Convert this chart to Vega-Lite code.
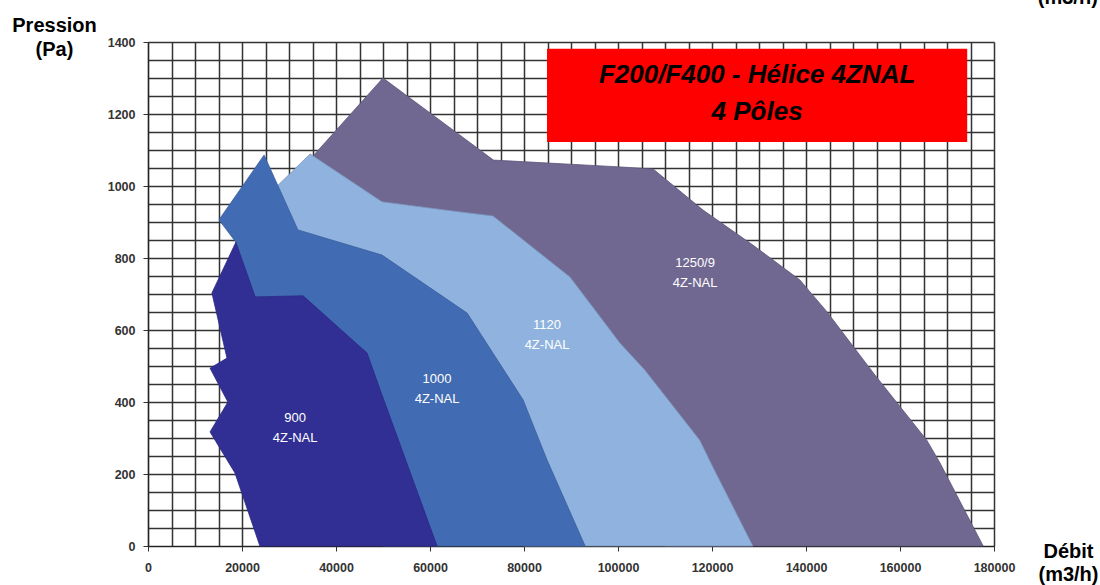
{
  "$schema": "https://vega.github.io/schema/vega-lite/v6.json",
  "width": 846,
  "height": 504,
  "autosize": {"type": "none"},
  "padding": {"left": 148, "top": 42, "right": 106, "bottom": 39},
  "background": "white",
  "config": {"view": {"stroke": null}, "font": "Liberation Sans"},
  "datasets": {
    "poly": [
      {"s": "1250", "i": 1, "x": 33500, "y": 1060},
      {"s": "1250", "i": 2, "x": 50000, "y": 1300},
      {"s": "1250", "i": 3, "x": 73500, "y": 1072},
      {"s": "1250", "i": 4, "x": 100400, "y": 1053},
      {"s": "1250", "i": 5, "x": 107500, "y": 1047},
      {"s": "1250", "i": 6, "x": 118100, "y": 933},
      {"s": "1250", "i": 7, "x": 128700, "y": 836},
      {"s": "1250", "i": 8, "x": 138700, "y": 739},
      {"s": "1250", "i": 9, "x": 144500, "y": 650},
      {"s": "1250", "i": 10, "x": 154300, "y": 481},
      {"s": "1250", "i": 11, "x": 165700, "y": 294},
      {"s": "1250", "i": 12, "x": 168500, "y": 231},
      {"s": "1250", "i": 13, "x": 177700, "y": 0},
      {"s": "1250", "i": 14, "x": 110000, "y": 0},
      {"s": "1250", "i": 15, "x": 100000, "y": 300},
      {"s": "1250", "i": 16, "x": 85000, "y": 700},
      {"s": "1250", "i": 17, "x": 50000, "y": 900},
      {"s": "1250", "i": 18, "x": 33500, "y": 1060},
      {"s": "1120", "i": 1, "x": 27500, "y": 1000},
      {"s": "1120", "i": 2, "x": 34500, "y": 1089},
      {"s": "1120", "i": 3, "x": 49800, "y": 956},
      {"s": "1120", "i": 4, "x": 66400, "y": 928},
      {"s": "1120", "i": 5, "x": 73400, "y": 917},
      {"s": "1120", "i": 6, "x": 89800, "y": 747},
      {"s": "1120", "i": 7, "x": 100400, "y": 564},
      {"s": "1120", "i": 8, "x": 105700, "y": 489},
      {"s": "1120", "i": 9, "x": 117400, "y": 294},
      {"s": "1120", "i": 10, "x": 120200, "y": 219},
      {"s": "1120", "i": 11, "x": 128700, "y": 0},
      {"s": "1120", "i": 12, "x": 80000, "y": 0},
      {"s": "1120", "i": 13, "x": 45000, "y": 700},
      {"s": "1120", "i": 14, "x": 28000, "y": 850},
      {"s": "1120", "i": 15, "x": 27500, "y": 1000},
      {"s": "1000", "i": 1, "x": 24700, "y": 1086},
      {"s": "1000", "i": 2, "x": 31900, "y": 878},
      {"s": "1000", "i": 3, "x": 49800, "y": 808},
      {"s": "1000", "i": 4, "x": 67900, "y": 647},
      {"s": "1000", "i": 5, "x": 79800, "y": 406},
      {"s": "1000", "i": 6, "x": 84900, "y": 239},
      {"s": "1000", "i": 7, "x": 93000, "y": 0},
      {"s": "1000", "i": 8, "x": 50000, "y": 0},
      {"s": "1000", "i": 9, "x": 22000, "y": 650},
      {"s": "1000", "i": 10, "x": 18700, "y": 844},
      {"s": "1000", "i": 11, "x": 15100, "y": 906},
      {"s": "1000", "i": 12, "x": 24700, "y": 1086},
      {"s": "900", "i": 1, "x": 18700, "y": 844},
      {"s": "900", "i": 2, "x": 22800, "y": 692},
      {"s": "900", "i": 3, "x": 33000, "y": 695},
      {"s": "900", "i": 4, "x": 46600, "y": 536},
      {"s": "900", "i": 5, "x": 49800, "y": 419},
      {"s": "900", "i": 6, "x": 61500, "y": 0},
      {"s": "900", "i": 7, "x": 23800, "y": 0},
      {"s": "900", "i": 8, "x": 18500, "y": 203},
      {"s": "900", "i": 9, "x": 13200, "y": 317},
      {"s": "900", "i": 10, "x": 17000, "y": 400},
      {"s": "900", "i": 11, "x": 13200, "y": 494},
      {"s": "900", "i": 12, "x": 16800, "y": 522},
      {"s": "900", "i": 13, "x": 13600, "y": 703},
      {"s": "900", "i": 14, "x": 18700, "y": 844}
    ],
    "labels": [
      {"label": "900\n4Z-NAL", "x": 31300, "y": 356},
      {"label": "1000\n4Z-NAL", "x": 61500, "y": 464},
      {"label": "1120\n4Z-NAL", "x": 84900, "y": 614},
      {"label": "1250/9\n4Z-NAL", "x": 116400, "y": 786}
    ],
    "box": [{"x": 84900, "x2": 174300, "y": 1122, "y2": 1381}],
    "title": [
      {"t": "F200/F400 - Hélice 4ZNAL", "x": 129600, "y": 1308},
      {"t": "4 Pôles", "x": 129600, "y": 1206}
    ],
    "clipped": [{"t": "(m3/h)", "x": 195700, "y": 1506}]
  },
  "encoding": {
    "x": {
      "field": "x", "type": "quantitative",
      "scale": {"domain": [0, 180000], "nice": false, "zero": false},
      "axis": {
        "values": [0,5000,10000,15000,20000,25000,30000,35000,40000,45000,50000,55000,60000,65000,70000,75000,80000,85000,90000,95000,100000,105000,110000,115000,120000,125000,130000,135000,140000,145000,150000,155000,160000,165000,170000,175000,180000],
        "format": "d",
        "labelExpr": "datum.value % 20000 === 0 ? datum.label : ''",
        "labelFont": "Liberation Sans", "labelFontSize": 12.5, "labelFontWeight": "bold", "labelColor": "#333333",
        "labelPadding": 10, "labelFlush": false, "labelOverlap": false,
        "tickSize": 5, "tickColor": "#333333",
        "tickOpacity": {"condition": {"test": "datum.value % 20000 === 0", "value": 1}, "value": 0},
        "domainColor": "#222222", "domainWidth": 1.2,
        "grid": true, "gridColor": "#333333", "gridWidth": 1.5, "gridOpacity": 1,
        "title": ["Débit", "(m3/h)"],
        "titleFont": "Liberation Sans", "titleFontSize": 20, "titleFontWeight": "bold", "titleColor": "#000000",
        "titleAlign": "center", "titleBaseline": "alphabetic", "titleAnchor": null,
        "titleX": 920, "titleY": 11, "titleLineHeight": 23
      }
    },
    "y": {
      "field": "y", "type": "quantitative",
      "scale": {"domain": [0, 1400], "nice": false, "zero": false},
      "axis": {
        "values": [0,50,100,150,200,250,300,350,400,450,500,550,600,650,700,750,800,850,900,950,1000,1050,1100,1150,1200,1250,1300,1350,1400],
        "format": "d",
        "labelExpr": "datum.value % 200 === 0 ? datum.label : ''",
        "labelFont": "Liberation Sans", "labelFontSize": 12.5, "labelFontWeight": "bold", "labelColor": "#333333",
        "labelPadding": 8, "labelFlush": false, "labelOverlap": false,
        "tickSize": 5, "tickColor": "#333333",
        "tickOpacity": {"condition": {"test": "datum.value % 200 === 0", "value": 1}, "value": 0},
        "domainColor": "#222222", "domainWidth": 1.2,
        "grid": true, "gridColor": "#333333", "gridWidth": 1.5, "gridOpacity": 1,
        "title": ["Pression", "(Pa)"],
        "titleFont": "Liberation Sans", "titleFontSize": 20, "titleFontWeight": "bold", "titleColor": "#000000",
        "titleAngle": 0, "titleAlign": "center", "titleBaseline": "alphabetic", "titleAnchor": null,
        "titleX": -94, "titleY": -11, "titleLineHeight": 24
      }
    }
  },
  "layer": [
    {
      "data": {"name": "poly"},
      "transform": [{"filter": "datum.s === '1250'"}],
      "mark": {"type": "line", "fill": "#716891", "stroke": "#5e5679", "strokeWidth": 0.8},
      "encoding": {"order": {"field": "i", "type": "quantitative"}}
    },
    {
      "data": {"name": "poly"},
      "transform": [{"filter": "datum.s === '1120'"}],
      "mark": {"type": "line", "fill": "#8fb3de", "stroke": "#7a92b8", "strokeWidth": 0.8},
      "encoding": {"order": {"field": "i", "type": "quantitative"}}
    },
    {
      "data": {"name": "poly"},
      "transform": [{"filter": "datum.s === '1000'"}],
      "mark": {"type": "line", "fill": "#416bb2", "stroke": "#3a5f9e", "strokeWidth": 0.8},
      "encoding": {"order": {"field": "i", "type": "quantitative"}}
    },
    {
      "data": {"name": "poly"},
      "transform": [{"filter": "datum.s === '900'"}],
      "mark": {"type": "line", "fill": "#312f93", "stroke": "#2c2a85", "strokeWidth": 0.8},
      "encoding": {"order": {"field": "i", "type": "quantitative"}}
    },
    {
      "data": {"name": "labels"},
      "mark": {"type": "text", "color": "#ffffff", "fontSize": 13, "font": "Liberation Sans", "lineBreak": "\n", "lineHeight": 20, "align": "center", "baseline": "middle"},
      "encoding": {"text": {"field": "label"}}
    },
    {
      "data": {"name": "box"},
      "mark": {"type": "rect", "color": "#ff0000"},
      "encoding": {"x2": {"field": "x2"}, "y2": {"field": "y2"}}
    },
    {
      "data": {"name": "title"},
      "mark": {"type": "text", "color": "#000000", "fontSize": 26, "fontWeight": "bold", "fontStyle": "italic", "font": "Liberation Sans", "align": "center", "baseline": "middle"},
      "encoding": {"text": {"field": "t"}}
    },
    {
      "data": {"name": "clipped"},
      "mark": {"type": "text", "color": "#000000", "fontSize": 20, "fontWeight": "bold", "font": "Liberation Sans", "align": "center", "baseline": "alphabetic"},
      "encoding": {"text": {"field": "t"}}
    }
  ]
}
